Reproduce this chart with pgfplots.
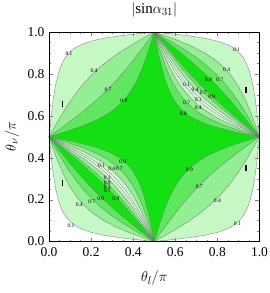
\documentclass[border=0pt]{standalone}
\usepackage{fontspec}
\setmainfont{Liberation Serif}
\usepackage{pgfplots}
\usepackage{pgfplotstable}
\pgfplotsset{compat=1.18}

\definecolor{cP}{RGB}{198,248,198}
\definecolor{cL}{RGB}{148,239,148}
\definecolor{cM}{RGB}{96,231,96}
\definecolor{cB}{RGB}{18,224,18}

% contour curves cot(pi x) cot(pi y) = C in the lower-left quadrant (p,q);
% first three rows close the region (slightly beyond the quadrant edges for A and B)
\pgfplotstableread{
p q
0.506 0
0.506 0.506
0 0.506
0 0.5
0.1111 0.4784
0.2222 0.4506
0.2889 0.4254
0.3333 0.4006
0.3556 0.3837
0.3702 0.3702
0.3837 0.3556
0.4006 0.3333
0.4254 0.2889
0.4506 0.2222
0.4784 0.1111
0.5 0
}\tA
\pgfplotstableread{
p q
0.506 0
0.506 0.506
0 0.506
0 0.5
0.0833 0.4747
0.1667 0.4459
0.2333 0.4168
0.2778 0.3917
0.3111 0.3678
0.3411 0.3411
0.3678 0.3111
0.3917 0.2778
0.4168 0.2333
0.4459 0.1667
0.4747 0.0833
0.5 0
}\tB
\pgfplotstableread{
p q
0.5 0
0.5 0.5
0 0.5
0 0.5
0.0833 0.4664
0.1667 0.4285
0.2222 0.3980
0.2611 0.3723
0.2944 0.3462
0.3213 0.3213
0.3462 0.2944
0.3723 0.2611
0.3980 0.2222
0.4285 0.1667
0.4664 0.0833
0.5 0
}\tC
\pgfplotstableread{
p q
0.5 0
0.5 0.5
0 0.5
0 0.5
0.0833 0.4597
0.1667 0.4148
0.2111 0.3869
0.25 0.3588
0.2833 0.3312
0.3079 0.3079
0.3312 0.2833
0.3588 0.25
0.3869 0.2111
0.4148 0.1667
0.4597 0.0833
0.5 0
}\tD
\pgfplotstableread{
p q
0.5 0
0.5 0.5
0 0.5
0 0.5
0.0833 0.4555
0.1667 0.4063
0.2111 0.3761
0.25 0.3461
0.2778 0.3221
0.3004 0.3004
0.3221 0.2778
0.3461 0.25
0.3761 0.2111
0.4063 0.1667
0.4555 0.0833
0.5 0
}\tE
\pgfplotstableread{
p q
0.5 0
0.5 0.5
0 0.5
0 0.5
0.0833 0.4489
0.1556 0.4010
0.2 0.3683
0.2389 0.3366
0.2667 0.3118
0.2896 0.2896
0.3118 0.2667
0.3366 0.2389
0.3683 0.2
0.4010 0.1556
0.4489 0.0833
0.5 0
}\tF
\pgfplotstableread{
p q
0.5 0
0.5 0.5
0 0.5
0 0.5
0.0667 0.4520
0.1389 0.3976
0.1889 0.3569
0.2278 0.3230
0.2556 0.2971
0.2766 0.2766
0.2971 0.2556
0.3230 0.2278
0.3569 0.1889
0.3976 0.1389
0.4520 0.0667
0.5 0
}\tG
\pgfplotstableread{
p q
0.5 0
0.5 0.5
0 0.5
0 0.5
0.0667 0.4455
0.1333 0.3894
0.1833 0.3453
0.2222 0.3094
0.25 0.2826
0.2664 0.2664
0.2826 0.25
0.3094 0.2222
0.3453 0.1833
0.3894 0.1333
0.4455 0.0667
0.5 0
}\tH
\pgfplotstableread{
p q
0.5 0
0.5 0.5
0 0.5
0 0.5
0.0333 0.4568
0.0778 0.4004
0.1222 0.3463
0.1667 0.2953
0.2 0.2594
0.2293 0.2293
0.2594 0.2
0.2953 0.1667
0.3463 0.1222
0.4004 0.0778
0.4568 0.0333
0.5 0
}\tI
\pgfplotstableread{
p q
0.5 0
0.5 0.5
0 0.5
0 0.5
0.0222 0.4601
0.0556 0.4022
0.0944 0.3398
0.1333 0.2849
0.1667 0.2440
0.2039 0.2039
0.2440 0.1667
0.2849 0.1333
0.3398 0.0944
0.4022 0.0556
0.4601 0.0222
0.5 0
}\tJ
\pgfplotstableread{
p q
0.5 0
0.5 0.5
0 0.5
0 0.5
0.0167 0.4521
0.0389 0.3913
0.0667 0.3244
0.1 0.2598
0.1333 0.2101
0.1691 0.1691
0.2101 0.1333
0.2598 0.1
0.3244 0.0667
0.3913 0.0389
0.4521 0.0167
0.5 0
}\tK
\pgfplotstableread{
p q
0.5 0
0.5 0.5
0 0.5
0 0.5
0.00556 0.4450
0.0111 0.3931
0.0194 0.3253
0.0306 0.2560
0.0444 0.1968
0.0611 0.1513
0.0778 0.1214
0.0975 0.0975
0.1214 0.0778
0.1513 0.0611
0.1968 0.0444
0.2560 0.0306
0.3253 0.0194
0.3931 0.0111
0.4450 0.00556
0.5 0
}\tL

\pgfplotsset{
  cfill/.style={draw=none,mark=none,forget plot,fill=#1},
  cline/.style={draw=black!55,line width=0.3pt,fill=none,mark=none,forget plot,skip coords between index={0}{3}}
}
\tikzset{clab/.style={font=\fontsize{5.5}{5.5}\selectfont,inner sep=0pt}}
% positive quadrants: lower-left and upper-right
\newcommand{\fillpos}[2]{%
  \addplot[cfill=#2] table[x=p,y=q]{#1};
  \addplot[cfill=#2] table[x expr=1-\thisrow{p},y expr=1-\thisrow{q}]{#1};}
% negative quadrants: upper-left and lower-right
\newcommand{\fillneg}[2]{%
  \addplot[cfill=#2] table[x=p,y expr=1-\thisrow{q}]{#1};
  \addplot[cfill=#2] table[x expr=1-\thisrow{p},y=q]{#1};}
\newcommand{\linepos}[1]{%
  \addplot[cline] table[x=p,y=q]{#1};
  \addplot[cline] table[x expr=1-\thisrow{p},y expr=1-\thisrow{q}]{#1};}
\newcommand{\lineneg}[1]{%
  \addplot[cline] table[x=p,y expr=1-\thisrow{q}]{#1};
  \addplot[cline] table[x expr=1-\thisrow{p},y=q]{#1};}

\begin{document}
\begin{tikzpicture}
\useasboundingbox (-49pt,-51.5pt) rectangle (221pt,241.5pt);
\begin{axis}[
  at={(0pt,0pt)}, anchor=south west,
  scale only axis, width=210.5pt, height=209.5pt,
  xmin=0, xmax=1, ymin=0, ymax=1,
  axis on top,
  xtick={0,0.2,0.4,0.6,0.8,1}, ytick={0,0.2,0.4,0.6,0.8,1},
  minor tick num=3,
  tick align=inside, major tick length=4pt, minor tick length=2pt,
  /pgf/number format/.cd, fixed, fixed zerofill, precision=1, assume math mode=true, /pgfplots/.cd,
  tick label style={font=\fontsize{13.5}{13.5}\selectfont},
  xticklabel style={yshift=-2pt},
  yticklabel style={xshift=-1pt},
  title={$|\mathrm{sin}\alpha_{31}|$},
  title style={at={(axis description cs:0.5,1.079)},anchor=center,yshift=0pt,font=\fontsize{15}{15}\selectfont},
  xlabel={$\theta_l/\pi$},
  xlabel style={at={(axis description cs:0.5,-0.174)},anchor=center,font=\fontsize{15}{15}\selectfont},
  ylabel={$\theta_\nu/\pi$},
  ylabel style={at={(axis description cs:-0.176,0.5)},anchor=center,font=\fontsize{15}{15}\selectfont},
]
% ---- fills, positive quadrants (outer to inner)
\fillpos{\tL}{cP}
\fillpos{\tK}{cL}
\fillpos{\tJ}{cM}
\fillpos{\tI}{cB}
\fillpos{\tH}{cM}
\fillpos{\tG}{cL}
\fillpos{\tF}{cP}
\fillpos{\tE}{white}
\fillpos{\tD}{cP}
\fillpos{\tC}{cL}
\fillpos{\tB}{cM}
\fillpos{\tA}{cB}
% ---- fills, negative quadrants
\fillneg{\tL}{cP}
\fillneg{\tJ}{cL}
\fillneg{\tG}{cM}
\fillneg{\tB}{cB}
% ---- contour lines
\linepos{\tL}\linepos{\tK}\linepos{\tJ}\linepos{\tI}
\linepos{\tH}\linepos{\tG}\linepos{\tF}\linepos{\tE}
\linepos{\tD}\linepos{\tC}\linepos{\tB}\linepos{\tA}
\lineneg{\tL}\lineneg{\tJ}\lineneg{\tG}\lineneg{\tB}
% ---- black bars
\addplot[black,line width=1.6pt,forget plot] coordinates {(0.064,0.640) (0.064,0.672)};
\addplot[black,line width=1.6pt,forget plot] coordinates {(0.936,0.707) (0.936,0.739)};
\addplot[black,line width=1.6pt,forget plot] coordinates {(0.064,0.263) (0.064,0.295)};
\addplot[black,line width=1.6pt,forget plot] coordinates {(0.936,0.335) (0.936,0.367)};
% ---- contour labels
\node[clab] at (axis cs:0.095,0.895) {0.1};
\node[clab] at (axis cs:0.214,0.815) {0.4};
\node[clab] at (axis cs:0.280,0.723) {0.7};
\node[clab] at (axis cs:0.356,0.671) {0.9};
\node[clab] at (axis cs:0.667,0.341) {0.9};
\node[clab] at (axis cs:0.714,0.262) {0.7};
\node[clab] at (axis cs:0.800,0.195) {0.4};
\node[clab] at (axis cs:0.895,0.087) {0.1};
\node[clab] at (axis cs:0.892,0.914) {0.1};
\node[clab] at (axis cs:0.844,0.822) {0.4};
\node[clab] at (axis cs:0.757,0.774) {0.9};
\node[clab] at (axis cs:0.812,0.774) {0.7};
\node[clab] at (axis cs:0.654,0.747) {0.1};
\node[clab] at (axis cs:0.694,0.723) {0.4};
\node[clab] at (axis cs:0.733,0.710) {0.7};
\node[clab] at (axis cs:0.773,0.691) {0.9};
\node[clab] at (axis cs:0.654,0.663) {0.7};
\node[clab] at (axis cs:0.709,0.675) {0.1};
\node[clab] at (axis cs:0.709,0.641) {0.4};
\node[clab] at (axis cs:0.638,0.612) {0.9};
\node[clab] at (axis cs:0.350,0.381) {0.9};
\node[clab] at (axis cs:0.250,0.360) {0.1};
\node[clab] at (axis cs:0.298,0.346) {0.4};
\node[clab] at (axis cs:0.334,0.346) {0.7};
\node[clab] at (axis cs:0.277,0.304) {0.1};
\node[clab] at (axis cs:0.277,0.283) {0.9};
\node[clab] at (axis cs:0.277,0.262) {0.1};
\node[clab] at (axis cs:0.277,0.241) {0.7};
\node[clab] at (axis cs:0.144,0.178) {0.4};
\node[clab] at (axis cs:0.203,0.190) {0.7};
\node[clab] at (axis cs:0.246,0.203) {0.9};
\node[clab] at (axis cs:0.318,0.203) {0.9};
\node[clab] at (axis cs:0.1045,0.074) {0.1};
\end{axis}
\end{tikzpicture}
\end{document}
